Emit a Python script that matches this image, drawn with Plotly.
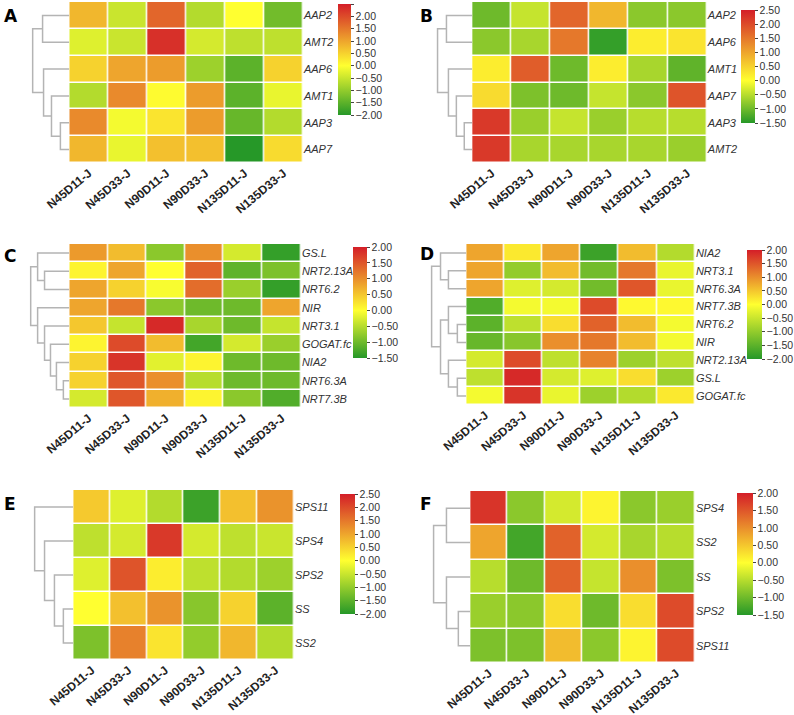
import plotly.graph_objects as go

W, H = 794, 715

cols = ["N45D11-J", "N45D33-J", "N90D11-J", "N90D33-J", "N135D11-J", "N135D33-J"]

# ---------------- data ----------------
A_rows = ["AAP2", "AMT2", "AAP6", "AMT1", "AAP3", "AAP7"]
A_vals = [
    [0.8, -0.5, 1.7, -0.7, 0.0, -1.3],
    [-0.3, -0.5, 2.3, -0.4, -0.6, -0.6],
    [0.5, 1.0, 1.1, -0.9, -1.5, 0.5],
    [-0.7, 1.3, 0.05, 1.1, -1.5, -0.2],
    [1.3, -0.1, 0.3, 1.1, -1.4, -0.7],
    [0.8, -0.2, 0.7, 0.7, -2.0, 0.4],
]
A_tree = [(4, 5, 9), (3, 6, 18), (2, 7, 26), (0, 1, 27), (8, 9, 37)]
A_zrange = [-2.0, 2.5]

B_rows = ["AAP2", "AAP6", "AMT1", "AAP7", "AAP3", "AMT2"]
B_vals = [
    [-1.0, -0.4, 1.7, 0.8, -0.8, -0.8],
    [-0.8, -0.6, 1.5, -1.4, 0.2, 0.3],
    [0.2, 1.8, -1.0, 0.2, -0.6, -1.1],
    [0.4, -0.9, -1.0, -0.4, -0.8, 1.9],
    [2.2, -0.7, -0.4, -0.7, -0.5, -0.5],
    [2.2, -0.6, -0.6, -0.6, -0.6, -0.7],
]
B_tree = [(4, 5, 8), (3, 6, 16), (2, 7, 24), (0, 1, 26), (8, 9, 35)]
B_zrange = [-1.5, 2.5]

C_rows = ["GS.L", "NRT2.13A", "NRT6.2", "NIR", "NRT3.1", "GOGAT.fc", "NIA2", "NRT6.3A", "NRT7.3B"]
C_vals = [
    [0.9, 0.6, -0.8, 1.0, -0.3, -1.4],
    [0.1, 0.8, 0.0, 1.4, -1.1, -0.9],
    [0.8, 0.4, -0.05, 1.3, -0.7, -1.4],
    [0.8, 1.2, -0.8, -1.0, -1.0, 0.8],
    [0.5, -0.4, 1.9, -0.6, -1.0, -0.4],
    [0.1, 1.6, 0.6, -1.3, -0.3, -0.7],
    [0.4, 1.8, -0.2, 0.1, -1.0, -1.0],
    [0.4, 1.5, 1.0, -0.5, -1.0, -1.0],
    [-0.3, 1.5, 0.7, 0.1, -0.8, -1.2],
]
C_tree = [(7, 8, 6), (6, 9, 13), (5, 10, 19), (4, 11, 25), (3, 12, 32),
          (1, 2, 25), (0, 14, 32), (15, 13, 39)]
C_zrange = [-1.5, 2.0]

D_rows = ["NIA2", "NRT3.1", "NRT6.3A", "NRT7.3B", "NRT6.2", "NIR", "NRT2.13A", "GS.L", "GOGAT.fc"]
D_vals = [
    [0.8, 0.2, 0.8, -1.8, 0.6, -0.7],
    [0.8, -1.0, 0.6, -1.3, 1.2, -0.2],
    [0.8, -0.3, -0.4, -1.3, 1.5, -0.2],
    [-1.6, -0.1, -0.1, 1.6, 0.05, 0.05],
    [-1.5, -0.6, 0.3, 1.4, 0.6, -0.1],
    [-1.4, -1.1, 1.0, 1.2, 0.6, -0.1],
    [-0.4, 1.6, -0.6, 1.1, -0.9, -0.6],
    [-0.6, 1.9, -0.4, -0.3, 0.3, -0.9],
    [-0.1, 1.8, -0.2, -0.9, -0.7, 0.2],
]
D_tree = [(1, 2, 18), (0, 9, 26), (4, 5, 9), (3, 11, 18), (7, 8, 9),
          (6, 13, 18), (12, 14, 26), (10, 15, 35)]
D_zrange = [-2.0, 2.0]

E_rows = ["SPS11", "SPS4", "SPS2", "SS", "SS2"]
E_vals = [
    [0.6, -0.3, -0.7, -1.8, 0.7, 1.2],
    [-0.6, -0.4, 2.2, -0.4, -0.6, -0.5],
    [-0.3, 1.9, 0.2, -0.6, -0.7, -0.9],
    [0.0, 0.7, 1.2, -1.1, 0.5, -1.5],
    [-1.2, 1.4, 0.3, -1.0, 0.8, -0.7],
]
E_tree = [(3, 4, 10), (2, 5, 19), (1, 6, 29), (0, 7, 39)]
E_zrange = [-2.0, 2.5]

F_rows = ["SPS4", "SS2", "SS", "SPS2", "SPS11"]
F_vals = [
    [1.8, -0.8, -0.3, 0.1, -0.8, -0.7],
    [0.8, -1.3, 1.4, -0.3, -0.6, -0.5],
    [-0.5, -1.0, 1.4, -0.4, 1.0, -0.9],
    [-0.7, -0.8, 0.3, -1.0, 0.3, 1.6],
    [-0.9, -0.9, 0.6, -0.8, 0.1, 1.6],
]
F_tree = [(3, 4, 12), (2, 5, 24), (0, 1, 24), (7, 6, 37)]
F_zrange = [-1.5, 2.0]

# ---------------- layout geometry (pixels) ----------------
panels = [
    dict(letter="A", rows=A_rows, vals=A_vals, tree=A_tree, zr=A_zrange,
         heat=(70, 306, 2, 163), cb=(341, 13, 4, 111), lab=(2, 4)),
    dict(letter="B", rows=B_rows, vals=B_vals, tree=B_tree, zr=B_zrange,
         heat=(477, 714, 2, 163), cb=(749, 14, 10, 113), lab=(422, 4)),
    dict(letter="C", rows=C_rows, vals=C_vals, tree=C_tree, zr=C_zrange,
         heat=(70, 304, 244, 408), cb=(357, 14, 247, 111), lab=(2, 244)),
    dict(letter="D", rows=D_rows, vals=D_vals, tree=D_tree, zr=D_zrange,
         heat=(471, 702, 244, 405), cb=(755, 15, 250, 109), lab=(422, 242)),
    dict(letter="E", rows=E_rows, vals=E_vals, tree=E_tree, zr=E_zrange,
         heat=(74, 297, 490, 660), cb=(343, 15, 494, 120), lab=(2, 492)),
    dict(letter="F", rows=F_rows, vals=F_vals, tree=F_tree, zr=F_zrange,
         heat=(475, 702, 491, 663), cb=(744, 16, 493, 122), lab=(422, 492)),
]

GREEN = "rgb(38,152,40)"
YELLOW = "rgb(255,255,48)"
RED = "rgb(212,30,40)"


def dendro(tree, n):
    pos = {i: (0.0, float(i)) for i in range(n)}
    xs, ys = [], []
    for k, (a, b, h) in enumerate(tree):
        ha, ya = pos[a]
        hb, yb = pos[b]
        xs += [ha, h, h, hb, None]
        ys += [ya, ya, yb, yb, None]
        pos[n + k] = (h, (ya + yb) / 2)
    return xs, ys


fig = go.Figure()
layout = dict(
    width=W, height=H, margin=dict(l=0, r=0, t=0, b=0),
    paper_bgcolor="white", plot_bgcolor="white",
    font=dict(family="Liberation Sans, Arial", color="#333"),
    showlegend=False, annotations=[],
)

for i, p in enumerate(panels):
    hx = 2 * i + 1
    dx = 2 * i + 2
    x0, x1, y0, y1 = p["heat"]
    n = len(p["rows"])
    zmin, zmax = p["zr"]
    mid = (0 - zmin) / (zmax - zmin)
    cs = [[0, GREEN], [mid, YELLOW], [1, RED]]
    cbx, cbw, cby, cbh = p["cb"]
    fig.add_trace(go.Heatmap(
        z=p["vals"], x=list(range(len(cols))), y=list(range(n)),
        zmin=zmin, zmax=zmax, colorscale=cs, xgap=1.5, ygap=1.5,
        xaxis="x%d" % hx, yaxis="y%d" % hx, hoverinfo="skip",
        colorbar=dict(
            x=cbx / W, xanchor="left", y=1 - cby / H, yanchor="top",
            len=cbh, lenmode="pixels", thickness=cbw, thicknessmode="pixels",
            xpad=0, ypad=0, tick0=zmin, dtick=0.5, tickformat=".2f",
            ticks="outside", ticklen=3, tickcolor="#444", tickwidth=1,
            tickfont=dict(size=10.5, color="#333", family="Liberation Sans, Arial"),
            outlinewidth=0,
        ),
    ))
    layout["xaxis%d" % hx] = dict(
        domain=[x0 / W, x1 / W], range=[-0.5, len(cols) - 0.5],
        tickvals=list(range(len(cols))), ticktext=cols, tickangle=-40,
        tickfont=dict(size=12, color="#222", weight="bold"),
        showgrid=False, zeroline=False, showline=False, ticks="",
        automargin=False, anchor="y%d" % hx,
    )
    layout["yaxis%d" % hx] = dict(
        domain=[1 - y1 / H, 1 - y0 / H], range=[n - 0.5, -0.5],
        tickvals=list(range(n)), ticktext=p["rows"], side="right",
        tickfont=dict(size=11, color="#333", style="italic"),
        showgrid=False, zeroline=False, showline=False, ticks="",
        automargin=False, anchor="x%d" % hx,
    )
    xs, ys = dendro(p["tree"], n)
    root = p["tree"][-1][2]
    fig.add_trace(go.Scatter(
        x=xs, y=ys, mode="lines", line=dict(color="#b4b4b4", width=1.5),
        xaxis="x%d" % dx, yaxis="y%d" % dx, hoverinfo="skip",
    ))
    layout["xaxis%d" % dx] = dict(
        domain=[(x0 - root - 2) / W, x0 / W], range=[root + 2, 0],
        visible=False, automargin=False, anchor="y%d" % dx,
    )
    layout["yaxis%d" % dx] = dict(
        domain=[1 - y1 / H, 1 - y0 / H], range=[n - 0.5, -0.5],
        visible=False, automargin=False, anchor="x%d" % dx,
    )
    lx, ly = p["lab"]
    layout["annotations"].append(dict(
        text="<b>%s</b>" % p["letter"], x=lx / W, y=1 - ly / H,
        xref="paper", yref="paper", xanchor="left", yanchor="top",
        showarrow=False, font=dict(size=17, color="black", family="DejaVu Sans"),
    ))

fig.update_layout(**layout)
fig.write_html("out.html")
